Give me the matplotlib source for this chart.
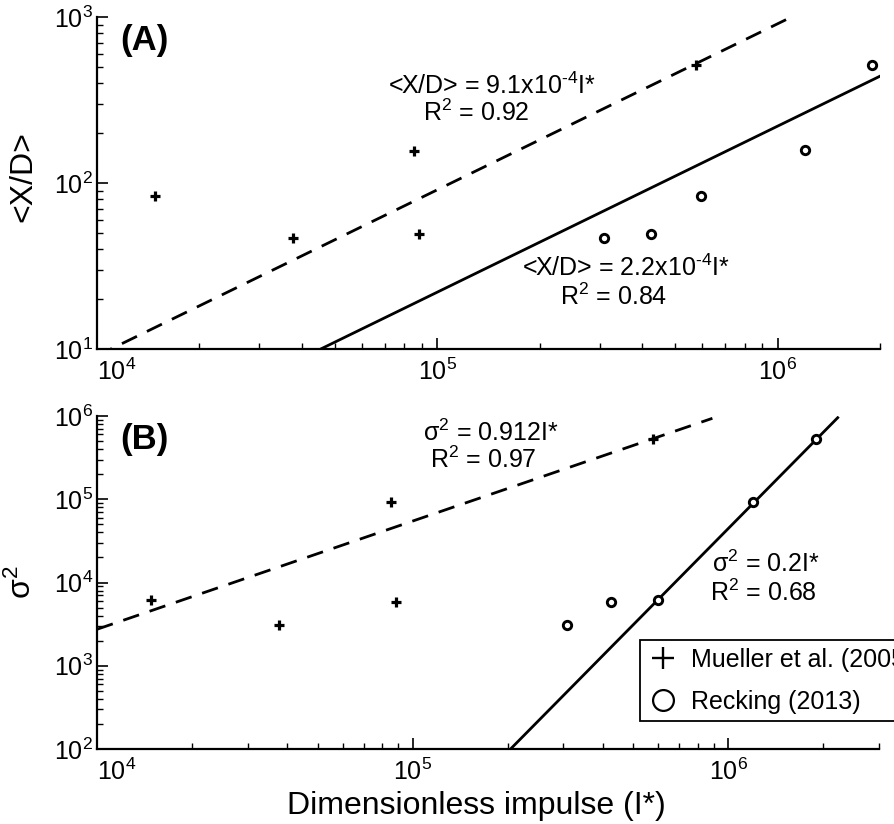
import matplotlib
matplotlib.use("Agg")
from matplotlib import pyplot as plt
from matplotlib.lines import Line2D
from matplotlib.ticker import NullFormatter

plt.rcParams['font.family'] = ['Liberation Sans', 'DejaVu Sans']
plt.rcParams['mathtext.fontset'] = 'custom'
plt.rcParams['mathtext.rm'] = 'Liberation Sans'
plt.rcParams['mathtext.it'] = 'Liberation Sans:italic'
plt.rcParams['mathtext.bf'] = 'Liberation Sans:bold'
plt.rcParams['mathtext.default'] = 'regular'

# dimensionless impulse I* for both data sets
mueller_impulse = [1.48e4, 3.76e4, 8.55e4, 8.85e4, 5.77e5]
recking_impulse = [3.09e5, 4.25e5, 5.97e5, 1.20e6, 1.90e6]

# (A) mean travel distance <X/D>
mueller_xd = [83.6, 46.7, 156, 49.1, 514]
recking_xd = [46.8, 49.1, 83.6, 157, 514]

# (B) variance sigma^2
mueller_var = [6.17e3, 3.06e3, 9.18e4, 5.89e3, 5.25e5]
recking_var = [3.08e3, 5.83e3, 6.17e3, 9.35e4, 5.25e5]

# power law fits: (coef, exponent, I* start, I* end)
fit_a_mueller = (9.1e-4, 1.0, 1.0e4, 1.07e6)
fit_a_recking = (2.2e-4, 1.0, 4.4e4, 2.0e6)
fit_b_mueller = (0.0173, 1.30, 1.0e4, 8.9e5)
fit_b_recking = (4.07e-19, 3.84, 2.0e5, 2.22e6)

x_ticks = [1e4, 1e5, 1e6]
x_ticklabels = ['$10^{4}$', '$10^{5}$', '$10^{6}$']


def fit_line(ax, fit, style):
    coef, expo, lo, hi = fit
    xs = [lo, hi]
    ys = [coef * x ** expo for x in xs]
    ax.plot(xs, ys, color='black', lw=2.0, ls=style, zorder=2)


def style_axis(ax, xlim, ylim):
    ax.set_xscale('log')
    ax.set_yscale('log')
    ax.set_xlim(xlim)
    ax.set_ylim(ylim)
    for s in ['top', 'right']:
        ax.spines[s].set_visible(False)
    for s in ['left', 'bottom']:
        ax.spines[s].set_linewidth(1.6)
    ax.set_xticks(x_ticks)
    ax.set_xticklabels(x_ticklabels)
    ax.get_xticklabels()[0].set_horizontalalignment('left')
    ax.xaxis.set_minor_formatter(NullFormatter())
    ax.yaxis.set_minor_formatter(NullFormatter())
    ax.tick_params(which='major', direction='in', length=8, width=1.2, labelsize=18)
    ax.tick_params(which='minor', direction='in', length=4.5, width=1.0)
    ax.tick_params(axis='x', which='major', pad=7)
    ax.tick_params(axis='y', which='major', pad=3)


def scatter_sets(ax, ys_m, ys_r):
    ax.plot(mueller_impulse, ys_m, ls='none', marker='+', color='black',
            markersize=7, mew=2.3, zorder=3)
    ax.plot(recking_impulse, ys_r, ls='none', marker='o', mfc='white', mec='black',
            markersize=6, mew=2.1, zorder=3)


fig = plt.figure(figsize=(8.94, 8.24), dpi=100)
ax1 = fig.add_axes([97 / 894, 1 - 349 / 824, 783 / 894, 332 / 824])
ax2 = fig.add_axes([97 / 894, 1 - 749 / 824, 782 / 894, 333 / 824])

sup_m4 = '$^{\\text{-}4}$'

# (A)
style_axis(ax1, (1e4, 2e6), (10, 1000))
fit_line(ax1, fit_a_mueller, (0, (6, 4)))
fit_line(ax1, fit_a_recking, '-')
scatter_sets(ax1, mueller_xd, recking_xd)
ax1.set_ylabel('<X/D>', fontsize=23)
ax1.yaxis.set_label_coords(-0.075, 0.52)
ax1.text(0.03, 0.978, '(A)', transform=ax1.transAxes, fontsize=25,
         fontweight='bold', ha='left', va='top')
ax1.text(0.3716, 0.792, '<X/D> = 9.1x10' + sup_m4 + 'I*', transform=ax1.transAxes,
         fontsize=18, ha='left', va='center')
ax1.text(0.4163, 0.711, 'R$^{2}$ = 0.92', transform=ax1.transAxes,
         fontsize=18, ha='left', va='center')
ax1.text(0.5424, 0.244, '<X/D> = 2.2x10' + sup_m4 + 'I*', transform=ax1.transAxes,
         fontsize=18, ha='left', va='center')
ax1.text(0.5913, 0.157, 'R$^{2}$ = 0.84', transform=ax1.transAxes,
         fontsize=18, ha='left', va='center')

# (B)
style_axis(ax2, (1e4, 3e6), (100, 1e6))
fit_line(ax2, fit_b_mueller, (0, (6, 4)))
fit_line(ax2, fit_b_recking, '-')
scatter_sets(ax2, mueller_var, recking_var)
ax2.set_ylabel('σ$^{2}$', fontsize=23)
ax2.yaxis.set_label_coords(-0.075, 0.5)
ax2.set_xlabel('Dimensionless impulse (I*)', fontsize=23)
ax2.xaxis.set_label_coords(0.485, -0.125)
ax2.text(0.03, 0.98, '(B)', transform=ax2.transAxes, fontsize=25,
         fontweight='bold', ha='left', va='top')
ax2.text(0.417, 0.949, 'σ$^{2}$ = 0.912I*', transform=ax2.transAxes,
         fontsize=18, ha='left', va='center')
ax2.text(0.426, 0.868, 'R$^{2}$ = 0.97', transform=ax2.transAxes,
         fontsize=18, ha='left', va='center')
ax2.text(0.786, 0.556, 'σ$^{2}$ = 0.2I*', transform=ax2.transAxes,
         fontsize=18, ha='left', va='center')
ax2.text(0.784, 0.468, 'R$^{2}$ = 0.68', transform=ax2.transAxes,
         fontsize=18, ha='left', va='center')

handles = [
    Line2D([], [], ls='none', marker='+', color='black', markersize=16.5, mew=1.7,
           label='Mueller et al. (2005)'),
    Line2D([], [], ls='none', marker='o', mfc='white', mec='black', markersize=15,
           mew=1.6, label='Recking (2013)'),
]
leg = fig.legend(handles=handles, loc='upper left', bbox_to_anchor=(640 / 894, 1 - 640 / 824),
                 frameon=True, fancybox=False, edgecolor='black', framealpha=1,
                 fontsize=18, borderaxespad=0, borderpad=0.3, labelspacing=0.72,
                 handlelength=1.24, handletextpad=0.5)
leg.get_frame().set_linewidth(1.3)

fig.savefig('out.png', dpi=100)
